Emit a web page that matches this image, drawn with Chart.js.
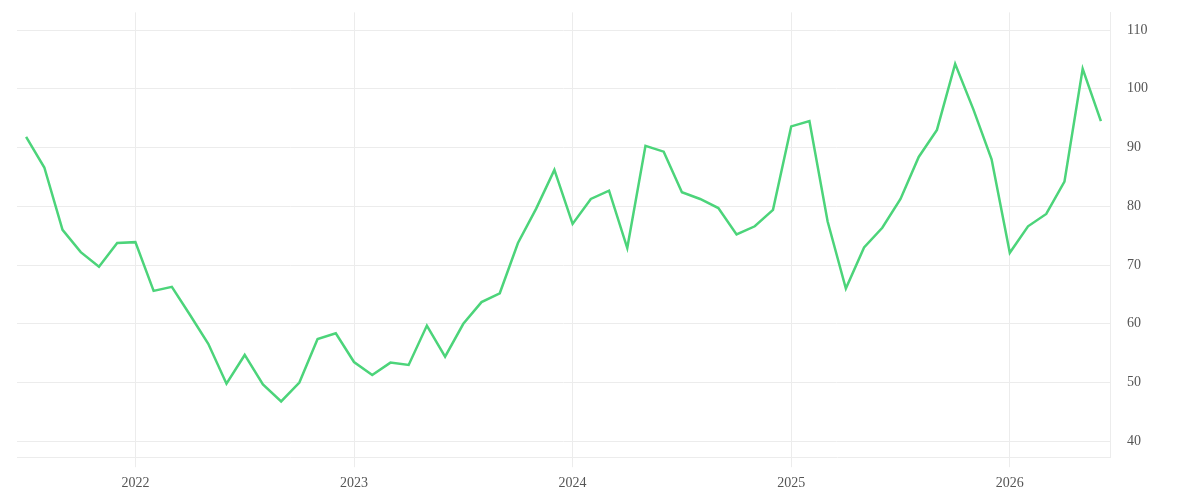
<!DOCTYPE html>
<html>
<head>
<meta charset="utf-8">
<script src="https://cdn.jsdelivr.net/npm/chart.js@4"></script>
<style>
  html, body { margin: 0; padding: 0; background: #fff; }
  #wrap { width: 1200px; height: 500px; }
</style>
</head>
<body>
<div id="wrap"><canvas id="lineChart"></canvas></div>
<script>
// 月ごとのラベル（2021-07 〜 2026-06）
const months = [
  "2021-07", "2021-08", "2021-09", "2021-10", "2021-11", "2021-12",
  "2022-01", "2022-02", "2022-03", "2022-04", "2022-05", "2022-06",
  "2022-07", "2022-08", "2022-09", "2022-10", "2022-11", "2022-12",
  "2023-01", "2023-02", "2023-03", "2023-04", "2023-05", "2023-06",
  "2023-07", "2023-08", "2023-09", "2023-10", "2023-11", "2023-12",
  "2024-01", "2024-02", "2024-03", "2024-04", "2024-05", "2024-06",
  "2024-07", "2024-08", "2024-09", "2024-10", "2024-11", "2024-12",
  "2025-01", "2025-02", "2025-03", "2025-04", "2025-05", "2025-06",
  "2025-07", "2025-08", "2025-09", "2025-10", "2025-11", "2025-12",
  "2026-01", "2026-02", "2026-03", "2026-04", "2026-05", "2026-06",
];

// 値
const values = [
  91.8, 86.6, 76.0, 72.2, 69.7, 73.75,
  73.9, 65.6, 66.3, 61.5, 56.6, 49.8,
  54.7, 49.7, 46.8, 50.0, 57.4, 58.4,
  53.5, 51.3, 53.4, 53.0, 59.7, 54.4,
  60.0, 63.7, 65.2, 73.75, 79.6, 86.2,
  77.0, 81.25, 82.65, 72.9, 90.3, 89.3,
  82.4, 81.25, 79.7, 75.2, 76.6, 79.4,
  93.6, 94.5, 77.4, 66.0, 73.0, 76.35,
  81.25, 88.4, 93.0, 104.25, 96.5, 88.0,
  72.1, 76.6, 78.7, 84.2, 103.4, 94.5,
];

// 軸の範囲
const yMin = 37.3;
const yMax = 113;
const yStep = 10;

const gridColor = "#ececec";
const tickFont = { family: "'Liberation Serif', serif", size: 14 };
const tickColor = "#555";

const ctx = document.getElementById("lineChart").getContext("2d");
window.lineChartInstance = new Chart(ctx, {
  type: "line",
  data: {
    labels: months,
    datasets: [
      {
        data: values,
        borderColor: "#4cd47a",
        borderWidth: 2.5,
        pointRadius: 0,
        tension: 0,
        fill: false,
      },
    ],
  },
  options: {
    responsive: true,
    maintainAspectRatio: false,
    animation: false,
    layout: {
      padding: { left: 17, top: 0, right: 0, bottom: 0 },
    },
    plugins: {
      legend: { display: false },
      tooltip: { enabled: false },
    },
    scales: {
      x: {
        type: "category",
        offset: true,
        // 1月だけ目盛りを残す
        afterBuildTicks: (axis) => {
          axis.ticks = axis.ticks.filter((t) => months[t.value].endsWith("-01"));
        },
        grid: {
          color: gridColor,
          offset: false,
          tickLength: 10,
        },
        border: { display: true, color: gridColor },
        ticks: {
          autoSkip: false,
          maxRotation: 0,
          padding: 8,
          font: tickFont,
          color: tickColor,
          callback: (value) => months[value].slice(0, 4),
        },
      },
      y: {
        position: "right",
        min: yMin,
        max: yMax,
        afterFit: (axis) => {
          axis.width = 90;
        },
        grid: {
          color: gridColor,
          drawTicks: true,
          tickLength: 13,
          tickColor: "rgba(0,0,0,0)",
        },
        border: { display: true, color: gridColor },
        ticks: {
          stepSize: yStep,
          includeBounds: false,
          padding: 4,
          font: tickFont,
          color: tickColor,
        },
      },
    },
  },
});
</script>
</body>
</html>
